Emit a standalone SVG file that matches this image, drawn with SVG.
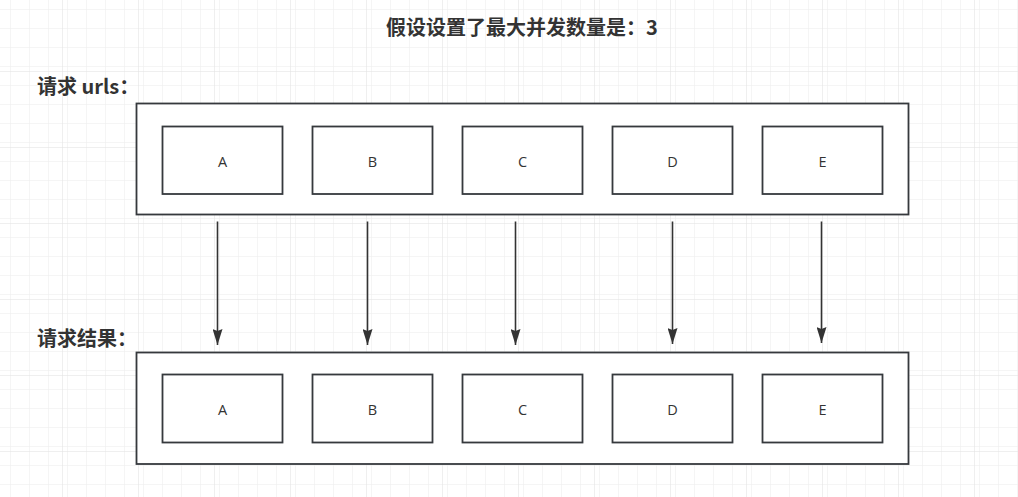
<svg xmlns="http://www.w3.org/2000/svg" width="1018" height="497" viewBox="0 0 1018 497">
  <style>
    .title { font-family: "Noto Sans CJK SC", "Liberation Sans", sans-serif; font-weight: bold; font-size: 20px; fill: #333333; }
    .outer { fill: #ffffff; stroke: #36393d; stroke-width: 1.8; }
    .cell { fill: #ffffff; stroke: #36393d; stroke-width: 1.8; }
    .cell-label { font-family: "Open Sans", "Liberation Sans", sans-serif; font-weight: 400; font-size: 14.5px; fill: #333333; text-anchor: middle; dominant-baseline: central; }
    .flow { stroke: #333333; stroke-width: 1.6; fill: none; }
  </style>
  <defs>
    <pattern id="minor" width="19" height="19" patternUnits="userSpaceOnUse" x="5" y="14">
      <path d="M0 0 H19 M0 0 V19" stroke="#ececec" stroke-width="1" fill="none"/>
    </pattern>
    <pattern id="major" width="76" height="76" patternUnits="userSpaceOnUse" x="62" y="71">
      <rect width="76" height="76" fill="url(#minor)"/>
      <path d="M0 0 H76 M0 0 V76" stroke="#e0e0e0" stroke-width="1" fill="none"/>
    </pattern>
    <marker id="arrow" viewBox="0 0 16 10" refX="16" refY="5" markerWidth="16" markerHeight="10" markerUnits="userSpaceOnUse" orient="auto">
      <path d="M0 0 L16 5 L0 10 L2 5 Z" fill="#333333"/>
    </marker>
  </defs>

  <!-- background grid -->
  <rect width="1018" height="497" fill="#ffffff"/>
  <rect width="1018" height="497" fill="url(#major)"/>

  <!-- headings -->
  <text class="title" x="522" y="35" text-anchor="middle">假设设置了最大并发数量是：3</text>
  <text class="title" x="37" y="94">请求 urls：</text>
  <text class="title" x="37" y="346">请求结果：</text>

  <!-- request urls -->
  <g id="urls">
    <rect class="outer" x="136.5" y="103.5" width="772" height="111"/>
    <g id="url-a"><rect class="cell" x="162.5" y="126.5" width="120" height="67.5"/><text class="cell-label" x="222.5" y="161">A</text></g>
    <g id="url-b"><rect class="cell" x="312.5" y="126.5" width="120" height="67.5"/><text class="cell-label" x="372.5" y="161">B</text></g>
    <g id="url-c"><rect class="cell" x="462.5" y="126.5" width="120" height="67.5"/><text class="cell-label" x="522.5" y="161">C</text></g>
    <g id="url-d"><rect class="cell" x="612.5" y="126.5" width="120" height="67.5"/><text class="cell-label" x="672.5" y="161">D</text></g>
    <g id="url-e"><rect class="cell" x="762.5" y="126.5" width="120" height="67.5"/><text class="cell-label" x="822.5" y="161">E</text></g>
  </g>

  <!-- request results -->
  <g id="results">
    <rect class="outer" x="136.5" y="352.5" width="772" height="111.5"/>
    <g id="result-a"><rect class="cell" x="162.5" y="374.5" width="120" height="68"/><text class="cell-label" x="222.5" y="409">A</text></g>
    <g id="result-b"><rect class="cell" x="312.5" y="374.5" width="120" height="68"/><text class="cell-label" x="372.5" y="409">B</text></g>
    <g id="result-c"><rect class="cell" x="462.5" y="374.5" width="120" height="68"/><text class="cell-label" x="522.5" y="409">C</text></g>
    <g id="result-d"><rect class="cell" x="612.5" y="374.5" width="120" height="68"/><text class="cell-label" x="672.5" y="409">D</text></g>
    <g id="result-e"><rect class="cell" x="762.5" y="374.5" width="120" height="68"/><text class="cell-label" x="822.5" y="409">E</text></g>
  </g>

  <!-- connectors -->
  <g id="connectors">
    <line class="flow" x1="217.5" y1="221.5" x2="217.5" y2="345" marker-end="url(#arrow)"/>
    <line class="flow" x1="367.5" y1="221.5" x2="367.5" y2="345" marker-end="url(#arrow)"/>
    <line class="flow" x1="515.5" y1="221.5" x2="515.5" y2="345" marker-end="url(#arrow)"/>
    <line class="flow" x1="672.5" y1="221.5" x2="672.5" y2="344" marker-end="url(#arrow)"/>
    <line class="flow" x1="821.5" y1="221.5" x2="821.5" y2="343" marker-end="url(#arrow)"/>
  </g>
</svg>
